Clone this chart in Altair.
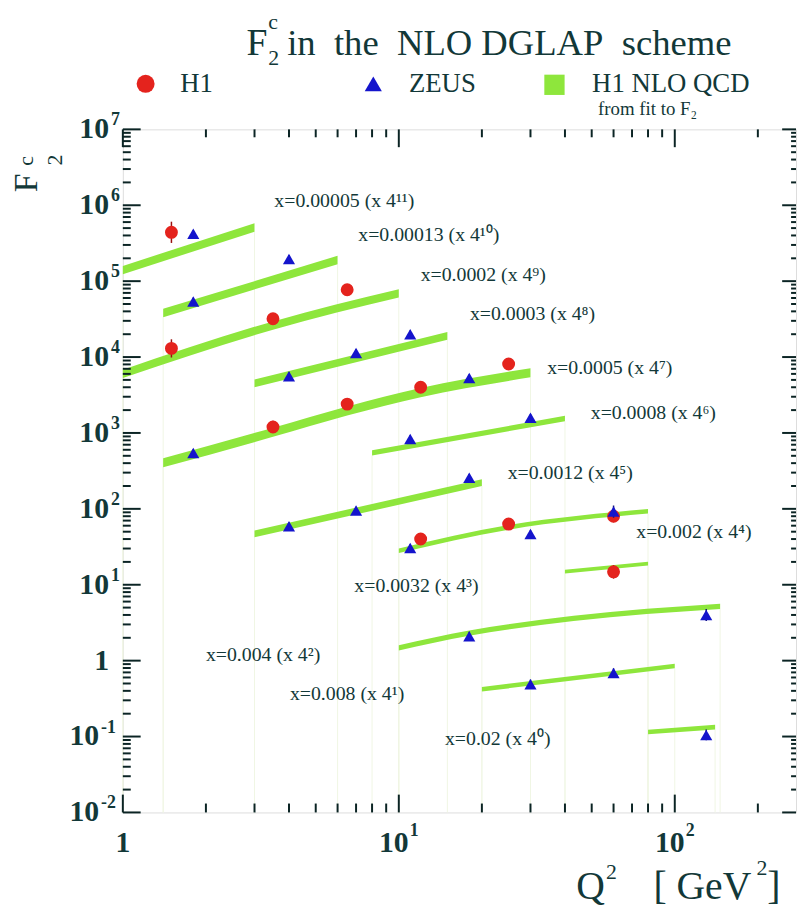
import altair as alt
import pandas as pd
import numpy as np

# ------------------------------------------------------------------ data
x_bins = ["0.00005", "0.00013", "0.0002", "0.0003", "0.0005", "0.0008",
          "0.0012", "0.002", "0.0032", "0.004", "0.008", "0.02"]
scale_powers = [11, 10, 9, 8, 7, 6, 5, 4, 3, 2, 1, 0]

# H1 measurements
h1_series = [0, 2, 2, 2, 4, 4, 4, 4, 7, 7, 7, 8]
h1_q2 = [1.5, 1.5, 3.5, 6.5, 3.5, 6.5, 12, 25, 12, 25, 60, 60]
h1_f2c = [4.4e5, 1.3e4, 3.2e4, 7.7e4, 1.2e3, 2.4e3, 4.0e3, 8.1e3, 40, 63, 80, 14.8]
h1_err = [0.14, 0.12, 0.07, 0.07, 0.08, 0.06, 0.06, 0.06, 0.07, 0.06, 0.08, 0.09]  # decades

# ZEUS measurements
zeus_series = [0, 1, 1, 3, 3, 3, 4, 4, 5, 5, 6, 6, 6, 7, 7, 7, 9, 9, 10, 10, 11]
zeus_q2 = [1.8, 1.8, 4.0, 4.0, 7.0, 11, 1.8, 18, 11, 30, 4.0, 7.0, 18, 11, 30, 60, 18, 130, 30, 60, 130]
zeus_f2c = [4.2e5, 5.4e4, 1.96e5, 5.6e3, 1.13e4, 2.0e4, 545, 5.3e3, 830, 1.58e3,
            59, 95, 257, 30.5, 46.5, 92, 2.1, 4.0, 0.49, 0.69, 0.105]
zeus_err = [0.05, 0.05, 0.05, 0.05, 0.05, 0.05, 0.05, 0.05, 0.05, 0.05,
            0.05, 0.05, 0.05, 0.05, 0.05, 0.08, 0.06, 0.08, 0.06, 0.06, 0.07]

# H1 NLO QCD bands (centre line)
band_series = [0, 0, 1, 1, 2, 2, 2, 3, 3, 4, 4, 4, 4, 4, 5, 5, 6, 6,
               7, 7, 7, 8, 8, 9, 9, 9, 9, 10, 10, 11, 11]
band_q2 = [1.0, 3.0, 1.4, 6.0, 1.0, 3.5, 10, 3.0, 15, 1.4, 3.5, 6.5, 12, 30,
           8, 40, 3, 20, 10, 25, 80, 40, 80,
           10, 18, 43, 146, 20, 100, 80, 140]
band_f2c = [1.4e5, 5.1e5, 3.8e4, 1.9e5, 6.0e3, 2.6e4, 6.9e4, 4.5e3, 1.9e4,
            405, 1.02e3, 1.95e3, 3.4e3, 6.2e3, 545, 1.55e3, 46.7, 222,
            28, 57, 93, 14.9, 19,
            1.47, 2.3, 3.6, 5.2, 0.42, 0.85, 0.115, 0.133]
band_halfwidth = [0.055, 0.055, 0.055, 0.05, 0.06, 0.035, 0.045, 0.03, 0.025, 0.035, 0.03, 0.03]

# label anchors for the x-bin annotations
label_q2 = [3.54, 7.13, 12.0, 18.1, 34.5, 49.6, 24.8, 72.5, 6.9, 2.0, 4.03, 14.7]
label_f2c = [1.15e6, 4.03e5, 1.21e5, 3.65e4, 7.2e3, 1.81e3, 299, 49.4, 9.5, 1.19, 0.359, 0.093]

# axis tick values
y_major = [1e-2, 1e-1, 1, 1e1, 1e2, 1e3, 1e4, 1e5, 1e6, 1e7]
y_exp = ["-2", "-1", "", "1", "2", "3", "4", "5", "6", "7"]
x_major = [1, 10, 100]
x_exp = ["", "1", "2"]

# ------------------------------------------------------------------ style
FONT = "Liberation Serif"
TEXT = "#123838"
FRAME = "#0b2424"
GREEN = "#8ee63c"
RED = "#e4231d"
BLUE = "#1414cc"
W, H = 680, 690

SUP = str.maketrans("0123456789-", "⁰¹²³⁴⁵⁶⁷⁸⁹⁻")

xs = alt.Scale(type="log", domain=[1, 275], nice=False)
ys = alt.Scale(type="log", domain=[0.01, 1e7], nice=False)
X = lambda f: alt.X(f, type="quantitative", scale=xs, axis=None)
Y = lambda f: alt.Y(f, type="quantitative", scale=ys, axis=None)

one = pd.DataFrame({"a": [0]})

# ------------------------------------------------------------------ tables
hw = np.array(band_halfwidth)[band_series]
bands = pd.DataFrame({"s": band_series, "q2": band_q2, "f": band_f2c})
bands["lo"] = bands["f"] * 10 ** (-hw)
bands["hi"] = bands["f"] * 10 ** (hw)

ends = bands.groupby("s").agg(first=("q2", "first"), last=("q2", "last"),
                              ffirst=("lo", "first"), flast=("lo", "last")).reset_index()
edges = pd.DataFrame({"q2": list(ends["first"]) + list(ends["last"]),
                      "f": list(ends["ffirst"]) + list(ends["flast"])})
edges["bottom"] = 0.01

h1 = pd.DataFrame({"q2": h1_q2, "f": h1_f2c, "e": h1_err})
h1["lo"] = h1["f"] * 10 ** (-h1["e"])
h1["hi"] = h1["f"] * 10 ** (h1["e"])
zeus = pd.DataFrame({"q2": zeus_q2, "f": zeus_f2c, "e": zeus_err})
zeus["lo"] = zeus["f"] * 10 ** (-zeus["e"])
zeus["hi"] = zeus["f"] * 10 ** (zeus["e"])

labels = pd.DataFrame({
    "q2": label_q2, "f": label_f2c,
    "t": [f"x={b} (x 4{str(p).translate(SUP)})" for b, p in zip(x_bins, scale_powers)],
})

# ------------------------------------------------------------------ layers
edge_lines = alt.Chart(edges).mark_rule(color="#f0f6e4", strokeWidth=1).encode(
    x=X("q2"), y=Y("f"), y2="bottom")

band_area = alt.Chart(bands).mark_area(color=GREEN, opacity=1, interpolate="monotone").encode(
    x=X("q2"), y=Y("lo"), y2="hi", detail="s:N")

h1_err_l = alt.Chart(h1).mark_rule(color="#9a1010", strokeWidth=1.5).encode(
    x=X("q2"), y=Y("lo"), y2="hi")
zeus_err_l = alt.Chart(zeus).mark_rule(color="#101070", strokeWidth=1.5).encode(
    x=X("q2"), y=Y("lo"), y2="hi")
h1_pts = alt.Chart(h1).mark_point(shape="circle", filled=True, color=RED, size=170,
                                  opacity=1).encode(x=X("q2"), y=Y("f"))
zeus_pts = alt.Chart(zeus).mark_point(shape="triangle-up", filled=True, color=BLUE,
                                      size=150, opacity=1).encode(x=X("q2"), y=Y("f"))

bin_labels = alt.Chart(labels).mark_text(align="left", baseline="middle", font=FONT,
                                         fontSize=20, color=TEXT).encode(
    x=X("q2"), y=Y("f"), text="t:N")

# ticks
def decades_minor(lo_exp, hi_exp):
    out = []
    for k in range(lo_exp, hi_exp):
        for m in range(2, 10):
            out.append(m * 10.0 ** k)
    return out

ymin = pd.DataFrame({"v": decades_minor(-2, 7)})
ymaj = pd.DataFrame({"v": y_major})
xmin = pd.DataFrame({"v": [v for v in decades_minor(0, 3) if v <= 275]})
xmaj = pd.DataFrame({"v": x_major})

def yticks(df, x0, x1):
    return alt.Chart(df).mark_rule(color=FRAME, strokeWidth=2).encode(
        y=Y("v"), x=alt.value(x0), x2=alt.value(x1))

def xticks(df, y0, y1):
    return alt.Chart(df).mark_rule(color=FRAME, strokeWidth=2).encode(
        x=X("v"), y=alt.value(y0), y2=alt.value(y1))

ticks = [
    yticks(ymaj, 0, 18), yticks(ymin, 0, 8),
    yticks(ymaj, W - 14, W), yticks(ymin, W - 5, W),
    xticks(xmaj, H - 18, H), xticks(xmin, H - 9, H),
    xticks(xmaj, 0, 18), xticks(xmin, 0, 8),
]

# tick labels
ylab = pd.DataFrame({"v": y_major, "e": y_exp})
ylab["neg"] = ylab["e"].str.startswith("-")
ylab_one = ylab[ylab["e"] == ""]
ylab_pos = ylab[(ylab["e"] != "") & (~ylab["neg"])]
ylab_neg = ylab[ylab["neg"]]

def tl(df, text, x, size, align, dy=0, field=None):
    kw = dict(align=align, baseline="middle", font=FONT, fontSize=size,
              fontWeight="bold", color=TEXT, dy=dy)
    if field is None:
        kw["text"] = text
        return alt.Chart(df).mark_text(**kw).encode(y=Y("v"), x=alt.value(x))
    return alt.Chart(df).mark_text(**kw).encode(y=Y("v"), x=alt.value(x), text=field)

ytl = [
    tl(ylab_one, "1", -14, 30, "right"),
    tl(ylab_pos, "10", -14, 30, "right"),
    tl(ylab_pos, None, -12, 18, "left", dy=-9, field="e:N"),
    tl(ylab_neg, "10", -24, 30, "right"),
    tl(ylab_neg, None, -22, 18, "left", dy=-9, field="e:N"),
]

xlab = pd.DataFrame({"v": x_major, "e": x_exp})
xl_one = xlab[xlab["e"] == ""]
xl_p = xlab[xlab["e"] != ""]
xtl = [
    alt.Chart(xl_one).mark_text(text="1", align="center", baseline="middle", font=FONT,
                                fontSize=30, fontWeight="bold", color=TEXT).encode(
        x=X("v"), y=alt.value(H + 31)),
    alt.Chart(xl_p).mark_text(text="10", align="right", baseline="middle", font=FONT,
                              fontSize=30, fontWeight="bold", color=TEXT, dx=10).encode(
        x=X("v"), y=alt.value(H + 31)),
    alt.Chart(xl_p).mark_text(align="left", baseline="middle", font=FONT,
                              fontSize=18, fontWeight="bold", color=TEXT, dx=11, dy=-12).encode(
        x=X("v"), y=alt.value(H + 31), text="e:N"),
]

# free text helpers
def txt(text, x, y, size, align="left", baseline="alphabetic", weight="normal", angle=0):
    return alt.Chart(one).mark_text(text=text, align=align, baseline=baseline, font=FONT,
                                    fontSize=size, fontWeight=weight, angle=angle,
                                    color=TEXT).encode(x=alt.value(x), y=alt.value(y))

title = [
    txt("F", 125, -75, 38),
    txt("c", 147, -101, 22),
    txt("2", 147, -65, 22),
    txt("in\u00a0 the\u00a0 NLO DGLAP\u00a0 scheme", 166, -75, 37),
]

legend = [
    alt.Chart(one).mark_point(shape="circle", filled=True, color=RED, size=330, opacity=1).encode(
        x=alt.value(23), y=alt.value(-46)),
    txt("H1", 58, -46, 27, baseline="middle"),
    alt.Chart(one).mark_point(shape="triangle-up", filled=True, color=BLUE, size=300, opacity=1).encode(
        x=alt.value(253), y=alt.value(-46)),
    txt("ZEUS", 289, -46, 27, baseline="middle"),
    alt.Chart(one).mark_point(shape="square", filled=True, color=GREEN, size=420, opacity=1).encode(
        x=alt.value(436), y=alt.value(-45)),
    txt("H1 NLO QCD", 474, -46, 27, baseline="middle"),
    txt("from fit to F\u2082", 480, -20, 19, baseline="middle"),
]

axis_titles = [
    txt("F", -87, 54, 34, align="center", angle=270),
    txt("c", -91, 32, 22, align="center", angle=270),
    txt("2", -61, 31, 22, align="center", angle=270),
    txt("Q", 458, 777, 40),
    txt("2", 488, 757, 22),
    txt("[ GeV", 536, 777, 40),
    txt("2", 640, 753, 22),
    txt("]", 651, 777, 40),
]

chart = alt.layer(
    edge_lines, band_area, h1_err_l, h1_pts, zeus_err_l, zeus_pts, bin_labels,
    *ticks, *ytl, *xtl, *title, *legend, *axis_titles
).properties(
    width=W, height=H,
    autosize=alt.AutoSizeParams(type="none"),
    padding={"left": 116, "top": 118, "right": 2, "bottom": 98},
).configure_view(stroke=FRAME, strokeWidth=2.5).configure(background="white")

chart.save("out.html", embed_options={"renderer": "svg", "actions": False})
